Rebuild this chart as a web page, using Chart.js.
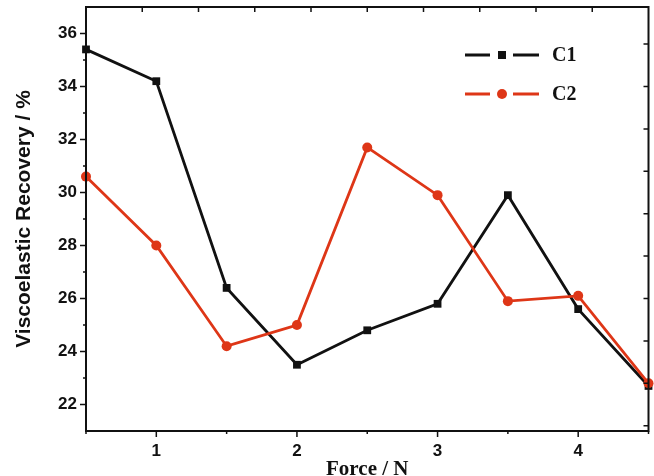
<!DOCTYPE html>
<html>
<head>
<meta charset="utf-8">
<script src="https://cdn.jsdelivr.net/npm/chart.js@4/dist/chart.umd.min.js"></script>
<style>
	html, body { margin: 0; padding: 0; background: #fff; }
	#wrap { width: 654px; height: 476px; }
</style>
</head>
<body>
<div id="wrap"><canvas id="recoveryChart"></canvas></div>
<script>
// данные графика
const forces = [0.5, 1, 1.5, 2, 2.5, 3, 3.5, 4, 4.5];
const c1Values = [35.4, 34.2, 26.4, 23.5, 24.8, 25.8, 29.9, 25.6, 22.7];
const c2Values = [30.6, 28.0, 24.2, 25.0, 31.7, 29.9, 25.9, 26.1, 22.8];
const seriesNames = ["C1", "C2"];
const xTickLabels = [1, 2, 3, 4];
const yTickLabels = [22, 24, 26, 28, 30, 32, 34, 36];

const black = "#111111";
const red = "#de3617";

const ctx = document.getElementById("recoveryChart");

// рамка, засечки и легенда
const frameAndTicks = {
	id: "frameAndTicks",
	afterDraw(chart) {
		const { ctx, chartArea: { top, bottom, left, right }, scales: { x, y } } = chart;
		ctx.save();
		ctx.strokeStyle = black;
		ctx.lineWidth = 2;
		ctx.strokeRect(left, top, right - left, bottom - top);
		ctx.lineWidth = 1.5;
		ctx.beginPath();
		// нижняя ось: главные и промежуточные засечки наружу
		for (let v = 0.5; v <= 4.5; v += 0.5) {
			const px = x.getPixelForValue(v);
			const len = Number.isInteger(v) ? 6 : 3;
			ctx.moveTo(px, bottom);
			ctx.lineTo(px, bottom + len);
		}
		// левая ось
		for (let v = 22; v <= 36; v += 1) {
			const py = y.getPixelForValue(v);
			const len = v % 2 === 0 ? 6 : 3;
			ctx.moveTo(left, py);
			ctx.lineTo(left - len, py);
		}
		// верхняя ось: засечки внутрь
		for (let v = 0.9; v < 4.5; v += 0.4) {
			const px = x.getPixelForValue(v);
			ctx.moveTo(px, top);
			ctx.lineTo(px, top + 5);
		}
		// правая ось: засечки внутрь
		for (let v = 35.6; v > 21; v -= 1.6) {
			const py = y.getPixelForValue(v);
			ctx.moveTo(right, py);
			ctx.lineTo(right - 5, py);
		}
		ctx.stroke();

		// легенда
		const items = chart.data.datasets;
		items.forEach((ds, i) => {
			const ly = 55 + i * 39;
			const lx = 465;
			ctx.strokeStyle = ds.borderColor;
			ctx.lineWidth = 2.8;
			ctx.beginPath();
			ctx.moveTo(lx, ly);
			ctx.lineTo(lx + 25, ly);
			ctx.moveTo(lx + 48, ly);
			ctx.lineTo(lx + 74, ly);
			ctx.stroke();
			ctx.fillStyle = ds.borderColor;
			if (ds.pointStyle === "rect") {
				ctx.fillRect(lx + 33, ly - 4, 8, 8);
			} else {
				ctx.beginPath();
				ctx.arc(lx + 37, ly, 5, 0, Math.PI * 2);
				ctx.fill();
			}
			ctx.fillStyle = black;
			ctx.font = "bold 20px 'Liberation Serif'";
			ctx.textBaseline = "middle";
			ctx.fillText(ds.label, lx + 87, ly + 1);
		});
		ctx.restore();
	},
};

const config = {
	type: "line",
	data: {
		datasets: [
			{
				label: seriesNames[0],
				data: forces.map((f, i) => ({ x: f, y: c1Values[i] })),
				borderColor: black,
				backgroundColor: black,
				borderWidth: 2.8,
				pointStyle: "rect",
				pointRadius: 5.5,
				pointBorderWidth: 0,
				order: 1,
			},
			{
				label: seriesNames[1],
				data: forces.map((f, i) => ({ x: f, y: c2Values[i] })),
				borderColor: red,
				backgroundColor: red,
				borderWidth: 2.8,
				pointStyle: "circle",
				pointRadius: 5,
				pointBorderWidth: 0,
				order: 0,
			},
		],
	},
	options: {
		responsive: true,
		maintainAspectRatio: false,
		animation: false,
		clip: false,
		layout: {
			padding: { left: 0, top: 7, right: 5, bottom: 0 },
		},
		scales: {
			x: {
				type: "linear",
				min: 0.5,
				max: 4.5,
				grid: { display: false, drawTicks: false },
				border: { display: false },
				afterBuildTicks(scale) {
					scale.ticks = xTickLabels.map((v) => ({ value: v }));
				},
				afterFit(scale) {
					scale.height = 45;
					scale.paddingLeft = 0;
					scale.paddingRight = 0;
				},
				ticks: {
					color: black,
					padding: 10,
					font: { family: "Liberation Sans", size: 17, weight: "bold" },
				},
				title: {
					display: true,
					text: "Force / N",
					color: black,
					padding: { top: 0, bottom: -6 },
					font: { family: "Liberation Serif", size: 21, weight: "bold" },
				},
			},
			y: {
				type: "linear",
				min: 21,
				max: 37,
				grid: { display: false, drawTicks: false },
				border: { display: false },
				afterBuildTicks(scale) {
					scale.ticks = yTickLabels.map((v) => ({ value: v }));
				},
				afterFit(scale) {
					scale.width = 86;
					scale.paddingTop = 0;
					scale.paddingBottom = 0;
				},
				ticks: {
					color: black,
					padding: 9,
					font: { family: "Liberation Sans", size: 17, weight: "bold" },
				},
				title: {
					display: true,
					text: "Viscoelastic Recovery / %",
					color: black,
					padding: { top: 12, bottom: 0 },
					font: { family: "Liberation Sans", size: 21, weight: "bold" },
				},
			},
		},
		plugins: {
			legend: false,
			tooltip: { enabled: false },
		},
		hover: { mode: null },
	},
	plugins: [frameAndTicks],
};

const recoveryChart = new Chart(ctx, config);
</script>
</body>
</html>
